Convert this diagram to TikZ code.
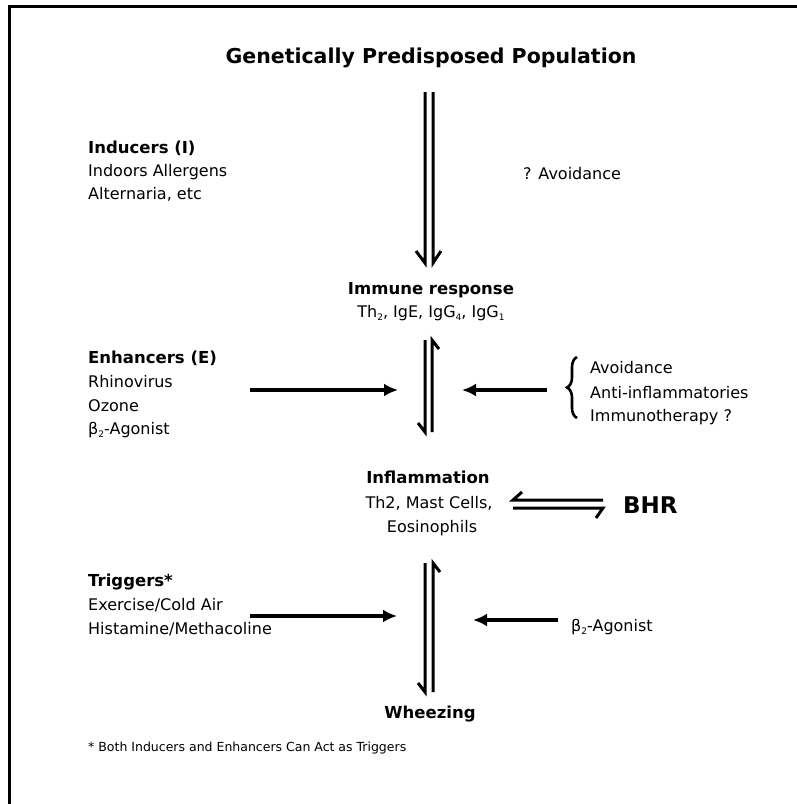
\documentclass[tikz,border=0pt]{standalone}
\usepackage{fontspec}
\setmainfont{DejaVu Sans}
\usetikzlibrary{arrows.meta,decorations.pathreplacing}
\newcommand\lowsub[1]{\raisebox{-3pt}{\fontsize{9}{9}\selectfont #1}}
\begin{document}
\begin{tikzpicture}[x=1pt,y=-1pt,
  txt/.style={inner sep=0pt, anchor=base west, font=\fontsize{16}{19}\selectfont},
  hd/.style={inner sep=0pt, anchor=base west, font=\bfseries\fontsize{16.5}{19}\selectfont},
  ctr/.style={anchor=base},
  harp/.style={line width=3pt, line join=miter, line cap=butt},
  arr/.style={line width=3.6pt, -{Latex[length=14pt,width=13pt]}},
  bracestyle/.style={line width=2.6pt, decorate, decoration={brace, amplitude=10pt}}]
\useasboundingbox (0,0) rectangle (797,804);
\draw[line width=3pt] (9,804) -- (9,6) -- (797,6);

% title
\node[hd, ctr, font=\bfseries\fontsize{20.5}{24}\selectfont] (title) at (431,63) {Genetically Predisposed Population};

% inducers
\node[hd] (ind) at (88,153) {Inducers (I)};
\node[txt] (ind1) at (88,176) {Indoors Allergens};
\node[txt] (ind2) at (88,199) {Alternaria, etc};
\node[txt] (avq) at (523,179) {? Avoidance};

% immune response
\node[hd, ctr] (imm) at (431,294) {Immune response};
\node[txt, ctr] (imm1) at (431,317) {Th\lowsub{2}, IgE, IgG\lowsub{4}, IgG\lowsub{1}};

% enhancers
\node[hd] (enh) at (88,363) {Enhancers (E)};
\node[txt] (enh1) at (88,387) {Rhinovirus};
\node[txt] (enh2) at (88,411) {Ozone};
\node[txt] (enh3) at (88,434) {β\lowsub{2}-Agonist};

% treatments
\node[txt] (tr1) at (590,373) {Avoidance};
\node[txt] (tr2) at (590,398) {Anti-inflammatories};
\node[txt] (tr3) at (590,421) {Immunotherapy ?};

% inflammation
\node[hd, ctr] (infl) at (428,483) {Inflammation};
\node[txt, ctr] (infl1) at (429,508) {Th2, Mast Cells,};
\node[txt, ctr] (infl2) at (432,532) {Eosinophils};
\node[hd, font=\bfseries\fontsize{23}{26}\selectfont] (bhr) at (623,513) {BHR};

% triggers
\node[hd] (trg) at (88,586) {Triggers*};
\node[txt] (trg1) at (88,610) {Exercise/Cold Air};
\node[txt] (trg2) at (88,634) {Histamine/Methacoline};
\node[txt] (b2) at (571,631) {β\lowsub{2}-Agonist};

% wheezing
\node[hd, ctr] (wh) at (430,718) {Wheezing};
\node[txt, font=\fontsize{12.5}{14}\selectfont] (foot) at (88,751) {* Both Inducers and Enhancers Can Act as Triggers};

% coordinates for connectors
\coordinate (d1s) at (425,92);  \coordinate (d1e) at (425,263);
\coordinate (d2s) at (433,92);  \coordinate (d2e) at (433,263);
\coordinate (m1s) at (425,340); \coordinate (m1e) at (425,432);
\coordinate (m2s) at (432,432); \coordinate (m2e) at (432,340);
\coordinate (l1s) at (425,563); \coordinate (l1e) at (425,692);
\coordinate (l2s) at (433,692); \coordinate (l2e) at (433,563);
\coordinate (h1s) at (603,500); \coordinate (h1e) at (513,500);
\coordinate (h2s) at (513,508); \coordinate (h2e) at (603,508);
\coordinate (ea) at (250,390);  \coordinate (eb) at (398,390);
\coordinate (ra) at (547,390);  \coordinate (rb) at (462,390);
\coordinate (ta) at (250,616);  \coordinate (tb) at (397,616);
\coordinate (ba) at (558,620);  \coordinate (bb) at (473,620);
\coordinate (brb) at (577,418); \coordinate (brt) at (577,357);

% double arrow title -> immune
\draw[harp] (d1s) -- (d1e) -- ++(-9,-12);
\draw[harp] (d2s) -- (d2e) -- ++(8,-12);
% immune <-> inflammation
\draw[harp] (m1s) -- (m1e) -- ++(-7,-9);
\draw[harp] (m2s) -- (m2e) -- ++(7,9);
% inflammation <-> wheezing
\draw[harp] (l1s) -- (l1e) -- ++(-7,-9);
\draw[harp] (l2s) -- (l2e) -- ++(7,9);
% inflammation <-> BHR
\draw[harp] (h1s) -- (h1e) -- ++(9,-8);
\draw[harp] (h2s) -- (h2e) -- ++(-7,10);

% horizontal arrows
\draw[arr] (ea) -- (eb);
\draw[arr] (ra) -- (rb);
\draw[arr] (ta) -- (tb);
\draw[arr] (ba) -- (bb);

% brace
\draw[bracestyle] (brb) -- (brt);
\end{tikzpicture}
\end{document}
